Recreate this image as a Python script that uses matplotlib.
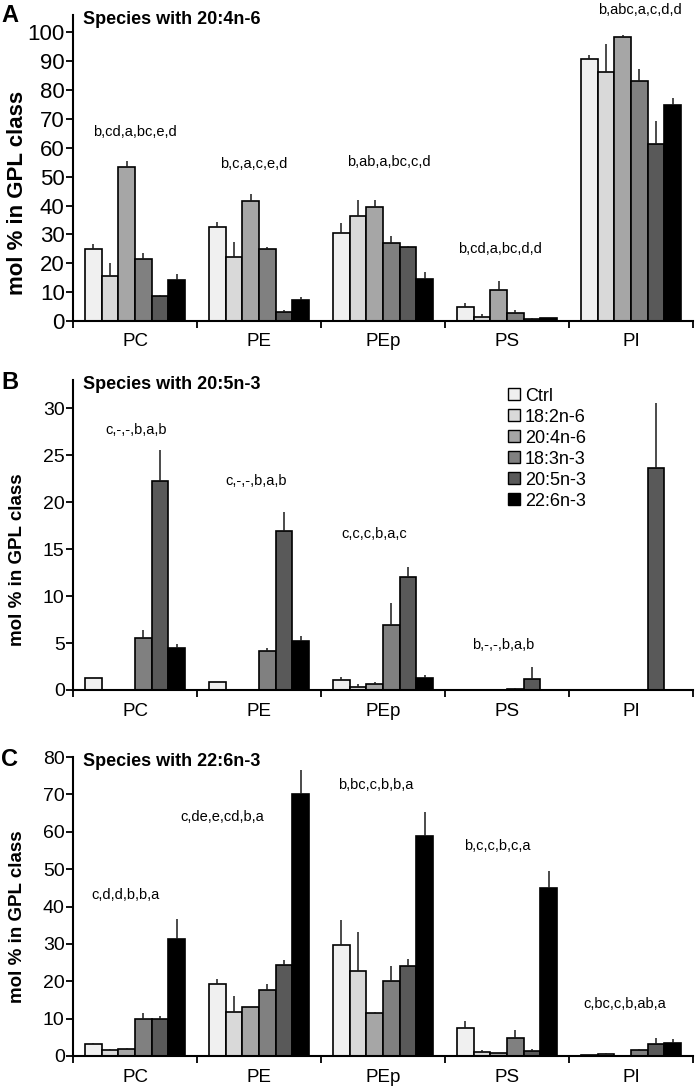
import numpy as np
import matplotlib
matplotlib.use("Agg")
import matplotlib.pyplot as plt
from matplotlib.lines import Line2D

plt.rcParams['font.family'] = ['Liberation Sans', 'DejaVu Sans']

# lipid classes (x categories) and supplements (bars within each class)
classes = ["PC", "PE", "PEp", "PS", "PI"]
treatments = ["Ctrl", "18:2n-6", "20:4n-6", "18:3n-3", "20:5n-3", "22:6n-3"]
bar_colors = ["#f0f0f0", "#d9d9d9", "#a6a6a6", "#808080", "#595959", "#000000"]

# panel A: species with 20:4n-6  (rows = classes, cols = treatments)
a_mean = [[25.0, 15.7, 53.3, 21.5, 8.5, 14.1],
          [32.7, 22.1, 41.4, 24.8, 3.1, 7.3],
          [30.4, 36.2, 39.6, 27.1, 25.5, 14.6],
          [4.9, 1.4, 10.7, 2.9, 0.7, 0.9],
          [90.8, 86.3, 98.3, 83.1, 61.2, 74.8]]
a_sd = [[1.6, 4.3, 2.0, 2.1, 0.4, 2.2],
        [1.7, 5.1, 2.7, 0.7, 0.6, 1.0],
        [3.4, 5.8, 2.3, 2.3, 0.5, 2.5],
        [1.5, 1.1, 3.0, 1.0, 0.2, 0.2],
        [1.2, 9.7, 0.9, 4.2, 8.0, 2.5]]
a_letters = ["b,cd,a,bc,e,d", "b,c,a,c,e,d", "b,ab,a,bc,c,d", "b,cd,a,bc,d,d", "b,abc,a,c,d,d"]
a_letter_x = [0.0, 0.96, 2.05, 2.94, 4.07]
a_letter_y = [65.4, 54.3, 55.0, 24.9, 107.8]

# panel B: species with 20:5n-3
b_mean = [[1.3, 0, 0, 5.5, 22.3, 4.5],
          [0.8, 0, 0, 4.1, 16.9, 5.2],
          [1.1, 0.3, 0.6, 6.9, 12.0, 1.3],
          [0.05, 0, 0, 0.15, 1.2, 0.05],
          [0, 0, 0, 0, 23.6, 0]]
b_sd = [[0.0, 0, 0, 0.9, 3.2, 0.4],
        [0.1, 0, 0, 0.4, 2.1, 0.5],
        [0.3, 0.3, 0.3, 2.4, 1.1, 0.3],
        [0.0, 0, 0, 0.1, 1.2, 0.0],
        [0, 0, 0, 0, 7.0, 0]]
b_letters = ["c,-,-,b,a,b", "c,-,-,b,a,b", "c,c,c,b,a,c", "b,-,-,b,a,b", ""]
b_letter_x = [0.01, 0.98, 1.93, 2.97, 4.0]
b_letter_y = [27.7, 22.3, 16.6, 4.8, 0]

# panel C: species with 22:6n-3
c_mean = [[3.2, 1.6, 2.0, 10.0, 9.9, 31.3],
          [19.2, 11.7, 13.0, 17.7, 24.3, 70.0],
          [29.8, 22.7, 11.4, 20.0, 24.1, 58.8],
          [7.4, 1.1, 0.7, 4.8, 1.3, 45.0],
          [0.3, 0.5, 0.1, 1.5, 3.2, 3.5]]
c_sd = [[0.4, 0.4, 0.1, 1.6, 0.9, 5.3],
        [1.5, 4.3, 0.2, 1.5, 1.3, 6.4],
        [6.5, 10.5, 0.3, 4.1, 1.9, 6.4],
        [2.0, 0.5, 0.1, 2.1, 0.6, 4.4],
        [0.1, 0.4, 0.0, 0.5, 1.5, 1.0]]
c_letters = ["c,d,d,b,b,a", "c,de,e,cd,b,a", "b,bc,c,b,b,a", "b,c,c,b,c,a", "c,bc,c,b,ab,a"]
c_letter_x = [-0.08, 0.70, 1.94, 2.92, 3.95]
c_letter_y = [43.0, 64.0, 72.4, 56.1, 14.0]

W, H = 697, 1090
fig = plt.figure(figsize=(W / 100, H / 100), dpi=100)


def px_axes(top, bottom):
    # axes rectangle from pixel rows
    return [73 / W, 1 - bottom / H, 620 / W, (bottom - top) / H]


def draw_panel(ax, mean, sd, letters, letter_x, letter_y, ymax, ystep, title, tick_fs, ylab_fs, ylab_y):
    mean = np.array(mean)
    sd = np.array(sd)
    x = np.arange(len(classes))
    bw = 0.135
    for j in range(len(treatments)):
        xs = x + (j - 2.5) * bw
        ax.bar(xs, mean[:, j], width=bw, color=bar_colors[j], edgecolor="black",
               linewidth=1.2, zorder=2)
        up = sd[:, j]
        keep = up > 0
        ax.errorbar(xs[keep], mean[keep, j], yerr=[np.zeros(keep.sum()), up[keep]],
                    fmt="none", ecolor="#1a1a1a", elinewidth=1.1, capsize=0, zorder=3)
    for i, t in enumerate(letters):
        if t:
            ax.text(letter_x[i], letter_y[i], t, ha="center", va="center", fontsize=10.5, clip_on=False)

    ax.set_xlim(-0.5, len(classes) - 0.5)
    ax.set_ylim(0, ymax)
    ax.set_yticks(np.arange(0, ymax + 0.01, ystep))
    ax.set_xticks(x)
    ax.set_xticklabels(classes, fontsize=13.5)
    ax.set_xticks(np.arange(-0.5, len(classes)), minor=True)
    ax.tick_params(axis="x", which="major", length=0, pad=9)
    ax.tick_params(axis="x", which="minor", length=5, width=1.3, direction="out")
    ax.tick_params(axis="y", length=5, width=1.3, direction="out", labelsize=tick_fs, pad=1)
    for s in ["top", "right"]:
        ax.spines[s].set_visible(False)
    for s in ["left", "bottom"]:
        ax.spines[s].set_linewidth(1.5)
    ax.set_ylabel("mol % in GPL class", fontsize=ylab_fs, fontweight="bold", va="center")
    ax.yaxis.set_label_coords(-0.09, ylab_y)
    ax.annotate(title, xy=(0.016, 1), xycoords="axes fraction", xytext=(0, -5),
                textcoords="offset pixels", ha="left", va="center",
                fontsize=13, fontweight="bold")


ax_a = fig.add_axes(px_axes(15, 321))
draw_panel(ax_a, a_mean, a_sd, a_letters, a_letter_x, a_letter_y, 106, 10,
           "Species with 20:4n-6", 16, 16, 0.42)

ax_b = fig.add_axes(px_axes(380, 690))
draw_panel(ax_b, b_mean, b_sd, b_letters, b_letter_x, b_letter_y, 33, 5,
           "Species with 20:5n-3", 14, 13.5, 0.42)

ax_c = fig.add_axes(px_axes(757, 1056))
draw_panel(ax_c, c_mean, c_sd, c_letters, c_letter_x, c_letter_y, 80, 10,
           "Species with 22:6n-3", 14, 13.5, 0.465)

# legend inside panel B
handles = [Line2D([], [], marker="s", linestyle="none", markersize=8,
                  markerfacecolor=c, markeredgecolor="black", markeredgewidth=1.0)
           for c in bar_colors]
ax_b.legend(handles, treatments, loc="upper left", bbox_to_anchor=(0.70, 0.975),
            frameon=False, fontsize=13, handlelength=0.8, handletextpad=0.2,
            labelspacing=0.22, borderpad=0, borderaxespad=0)

# panel letters
for lab, ypx in [("A", 15), ("B", 382), ("C", 760)]:
    fig.text(10 / W, 1 - ypx / H, lab, fontsize=17, fontweight="bold", ha="center", va="center")

fig.savefig("out.png", dpi=100)
